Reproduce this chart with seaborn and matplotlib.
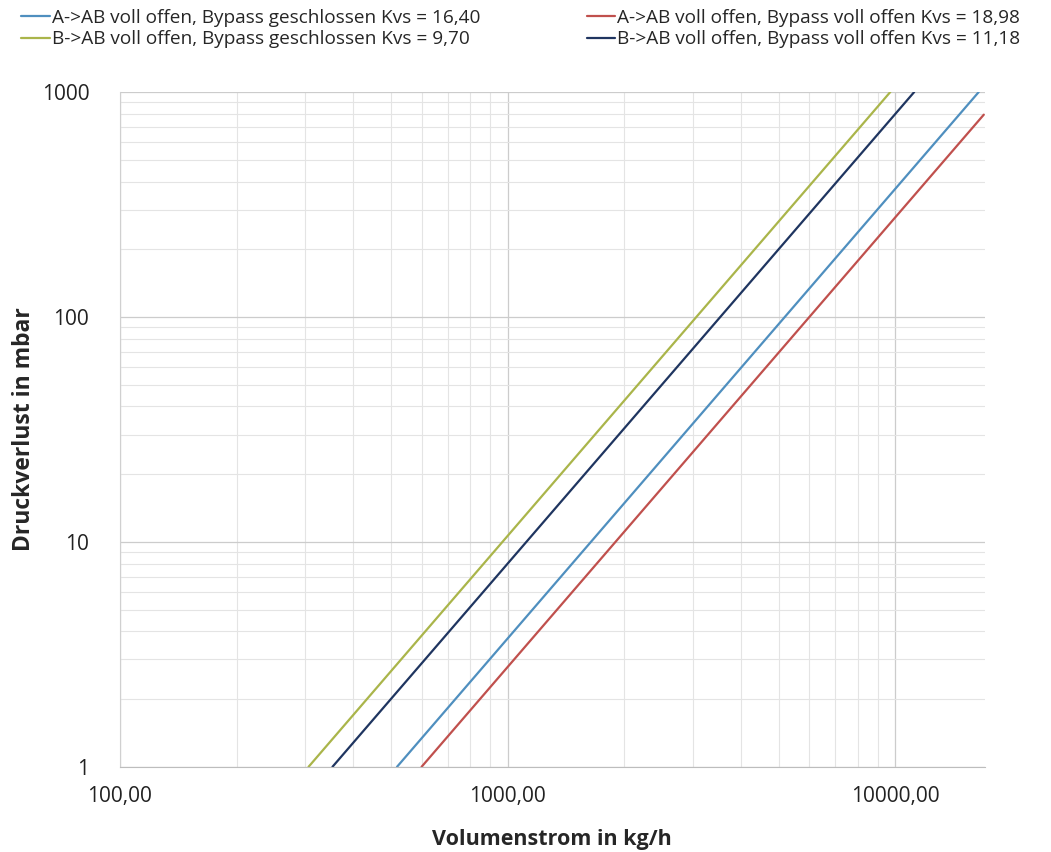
import numpy as np
import pandas as pd
import seaborn as sns
import matplotlib.pyplot as plt
from matplotlib.ticker import FixedLocator, FixedFormatter, LogLocator, NullFormatter

# legend order: row 1 left/right, row 2 left/right
labels = ['A->AB voll offen, Bypass geschlossen Kvs = 16,40',
          'B->AB voll offen, Bypass geschlossen Kvs = 9,70',
          'A->AB voll offen, Bypass voll offen Kvs = 18,98',
          'B->AB voll offen, Bypass voll offen Kvs = 11,18']
colors = ['#4f8fbf', '#aab54a', '#c0504d', '#1f3560']

# end points of each straight line (kg/h, mbar)
flow_start = [518.6, 306.7, 600.0, 353.5]
flow_end = [16400, 9700, 16900, 11180]
dp_start = [1, 1, 1, 1]
dp_end = [1000, 1000, 793, 1000]

x_ticks = [100, 1000, 10000]
x_ticklabels = ['100,00', '1000,00', '10000,00']
y_ticks = [1, 10, 100, 1000]
y_ticklabels = ['1', '10', '100', '1000']

rows = []
for i in range(len(labels)):
    rows.append({'Volumenstrom': flow_start[i], 'Druckverlust': dp_start[i], 'Serie': labels[i]})
    rows.append({'Volumenstrom': flow_end[i], 'Druckverlust': dp_end[i], 'Serie': labels[i]})
df = pd.DataFrame(rows)

sns.set_style('white')
plt.rcParams['font.family'] = ['Open Sans', 'DejaVu Sans']

fig = plt.figure(figsize=(10.51, 8.52), dpi=100)
ax = fig.add_axes([0.114, 0.100, 0.823, 0.792])

sns.lineplot(data=df, x='Volumenstrom', y='Druckverlust', hue='Serie',
             hue_order=labels, palette=colors, linewidth=1.6, ax=ax, legend=False)

ax.set_xscale('log')
ax.set_yscale('log')
ax.set_xlim(100, 17000)
ax.set_ylim(1, 1000)

ax.xaxis.set_major_locator(FixedLocator(x_ticks))
ax.xaxis.set_major_formatter(FixedFormatter(x_ticklabels))
ax.xaxis.set_minor_locator(LogLocator(base=10, subs=np.arange(2, 10)))
ax.xaxis.set_minor_formatter(NullFormatter())
ax.yaxis.set_major_locator(FixedLocator(y_ticks))
ax.yaxis.set_major_formatter(FixedFormatter(y_ticklabels))
ax.yaxis.set_minor_locator(LogLocator(base=10, subs=np.arange(2, 10)))
ax.yaxis.set_minor_formatter(NullFormatter())

ax.grid(True, which='major', color='#cccccc', linewidth=0.9)
ax.grid(True, which='minor', color='#e4e4e4', linewidth=0.8)
ax.set_axisbelow(True)
ax.tick_params(which='both', length=0, labelsize=15, colors='#222222')
ax.tick_params(axis='x', pad=14)
ax.tick_params(axis='y', pad=22)

for s in ['top', 'right']:
    ax.spines[s].set_visible(False)
ax.spines['left'].set_color('#d0d0d0')
ax.spines['bottom'].set_color('#bdbdbd')

ax.set_xlabel('Volumenstrom in kg/h', fontsize=15.5, fontweight='bold', labelpad=16)
ax.set_ylabel('Druckverlust in mbar', fontsize=16.5, fontweight='bold', labelpad=4)

handles = [plt.Line2D([], [], color=c, linewidth=1.6) for c in colors]
fig.legend(handles, labels, ncol=2, loc='upper left', bbox_to_anchor=(0.004, 1.01),
           frameon=False, fontsize=13.7, handlelength=1.5, handletextpad=0.1,
           columnspacing=5.6, labelspacing=0.2)

fig.savefig('out.png', dpi=100)
